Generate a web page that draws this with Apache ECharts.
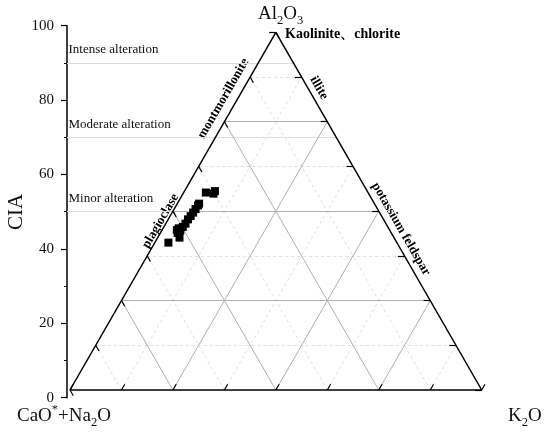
<!DOCTYPE html>
<html>
<head>
<meta charset="utf-8">
<script src="https://cdn.jsdelivr.net/npm/echarts@6/dist/echarts.min.js"></script>
<style>
  html, body { margin: 0; padding: 0; background: #fff; }
  #main { width: 550px; height: 434px; }
</style>
</head>
<body>
<div id="main"></div>
<script>
// sample compositions (A - CN - K, %)
var al2o3   = [41.2, 42.6, 44.7, 44.6, 45.6, 46.5, 47.7, 48.6, 49.6, 50.6, 51.6, 52.1, 55.2, 54.9, 55.6, 45.2, 43.9];
var caoNa2o = [55.5, 52.1, 51.7, 50.9, 49.8, 48.7, 47.5, 46.4, 45.3, 44.2, 43.1, 42.6, 39.4, 37.7, 37.0, 51.0, 51.9];
var k2o     = [ 3.3,  5.3,  3.6,  4.5,  4.6,  4.8,  4.8,  5.0,  5.1,  5.2,  5.3,  5.3,  5.4,  7.4,  7.4,  3.8,  4.2];

var ciaTicks = [0, 20, 40, 60, 80, 100];
var alterationLevels = [90, 70, 50];
var alterationNames = ['Intense alteration', 'Moderate alteration', 'Minor alteration'];
var majorGrid = [25, 50, 75];
var minorGrid = [12.5, 37.5, 62.5, 87.5];
var edgeTicks = [0, 12.5, 25, 37.5, 50, 62.5, 75, 87.5, 100];

var SERIF = '"Liberation Serif", "Times New Roman", serif';

// ternary -> cartesian (x = K + A/2, y = A)
function toXY(a, k) { return [k + a / 2, a]; }

function gridSegs(vals) {
    var out = [];
    vals.forEach(function (v) {
        out.push({coords: [toXY(v, 0), toXY(v, 100 - v)]});        // A const
        out.push({coords: [toXY(0, v), toXY(100 - v, v)]});        // K const
        out.push({coords: [toXY(0, 100 - v), toXY(100 - v, 0)]});  // CN const
    });
    return out;
}

var L = 1.6;
var tickSegs = [];
edgeTicks.forEach(function (t) {
    tickSegs.push({coords: [toXY(0, t), toXY(L, t)]});                 // bottom
    tickSegs.push({coords: [toXY(t, 100 - t), toXY(t, 100 - t - L)]}); // right
    tickSegs.push({coords: [toXY(t, 0), toXY(t - L, L)]});             // left
});

var outline = [toXY(0, 0), toXY(0, 100), toXY(100, 0), toXY(0, 0)];

var pts = al2o3.map(function (a, i) { return toXY(a, k2o[i]); });

var chart = echarts.init(document.getElementById('main'));

var richM = {fontFamily: SERIF, fontSize: 19, lineHeight: 26, fill: '#111'};
var richS = {fontFamily: SERIF, fontSize: 12.5, lineHeight: 12, verticalAlign: 'bottom', fill: '#111'};
var richP = {fontFamily: SERIF, fontSize: 12.5, lineHeight: 12, verticalAlign: 'top', fill: '#111'};

chart.setOption({
    animation: false,
    backgroundColor: '#fff',
    grid: [
        {left: 67, top: 25.7, width: 414.7, height: 372},
        {left: 70, top: 32.3, width: 411.7, height: 357.7}
    ],
    xAxis: [
        {gridIndex: 0, type: 'value', min: 0, max: 1, show: false},
        {gridIndex: 1, type: 'value', min: 0, max: 100, show: false}
    ],
    yAxis: [
        {
            gridIndex: 0, type: 'value', min: 0, max: 100, interval: 20,
            axisLine: {show: true, lineStyle: {color: '#000', width: 1.5}},
            axisTick: {show: true, length: 6, lineStyle: {color: '#000', width: 1.2}},
            minorTick: {show: true, splitNumber: 2, length: 3, lineStyle: {color: '#000'}},
            axisLabel: {fontFamily: SERIF, fontSize: 15, color: '#111', margin: 13},
            splitLine: {show: false}
        },
        {gridIndex: 1, type: 'value', min: 0, max: 100, show: false}
    ],
    series: [
        {
            id: 'alteration',
            type: 'lines', coordinateSystem: 'cartesian2d', xAxisIndex: 1, yAxisIndex: 1,
            clip: false, silent: true,
            lineStyle: {color: '#dedede', width: 1, opacity: 1},
            data: []
        },
        {
            type: 'lines', coordinateSystem: 'cartesian2d', xAxisIndex: 1, yAxisIndex: 1,
            clip: false, silent: true,
            lineStyle: {color: '#dfdfdf', width: 1, type: [3, 3], opacity: 1},
            data: gridSegs(minorGrid)
        },
        {
            type: 'lines', coordinateSystem: 'cartesian2d', xAxisIndex: 1, yAxisIndex: 1,
            clip: false, silent: true,
            lineStyle: {color: '#b0b0b0', width: 1, opacity: 1},
            data: gridSegs(majorGrid)
        },
        {
            type: 'line', xAxisIndex: 1, yAxisIndex: 1, clip: false, silent: true,
            symbol: 'none', lineStyle: {color: '#000', width: 1.5},
            data: outline
        },
        {
            type: 'lines', coordinateSystem: 'cartesian2d', xAxisIndex: 1, yAxisIndex: 1,
            clip: false, silent: true,
            lineStyle: {color: '#000', width: 1.2, opacity: 1},
            data: tickSegs
        },
        {
            type: 'scatter', xAxisIndex: 1, yAxisIndex: 1, clip: false,
            symbol: 'rect', symbolSize: 8,
            itemStyle: {color: '#000', opacity: 1},
            data: pts
        }
    ],
    graphic: [
        {type: 'text', id: 'al', x: 258, y: 14, style: {
            text: '{m|Al}{s|2}{m|O}{s|3}', verticalAlign: 'middle',
            rich: {m: richM, s: richS}
        }},
        {type: 'text', id: 'cn', x: 17, y: 416, style: {
            text: '{m|CaO}{p|*}{m|+Na}{s|2}{m|O}', verticalAlign: 'middle',
            rich: {m: richM, p: richP, s: richS}
        }},
        {type: 'text', id: 'k', x: 508, y: 416, style: {
            text: '{m|K}{s|2}{m|O}', verticalAlign: 'middle',
            rich: {m: richM, s: richS}
        }},
        {type: 'text', id: 'cia', x: 16, y: 212, rotation: Math.PI / 2, style: {
            text: 'CIA', font: '21px ' + SERIF, fill: '#111', align: 'center', verticalAlign: 'middle'
        }},
        {type: 'text', id: 'kao', x: 285, y: 34, style: {
            text: 'Kaolinite、chlorite', font: 'bold 14px ' + SERIF, fill: '#000', verticalAlign: 'middle'
        }},
        {type: 'text', id: 'mont', x: 223.5, y: 98.5, rotation: Math.PI / 3, style: {
            text: 'montmorillonite', font: 'bold 13px ' + SERIF, fill: '#000', align: 'center', verticalAlign: 'middle'
        }},
        {type: 'text', id: 'plag', x: 160.5, y: 221, rotation: Math.PI / 3, style: {
            text: 'plagioclase', font: 'bold 13px ' + SERIF, fill: '#000', align: 'center', verticalAlign: 'middle'
        }},
        {type: 'text', id: 'ill', x: 319, y: 88, rotation: -Math.PI / 3, style: {
            text: 'illite', font: 'bold 13px ' + SERIF, fill: '#000', align: 'center', verticalAlign: 'middle'
        }},
        {type: 'text', id: 'kfs', x: 401, y: 229, rotation: -Math.PI / 3, style: {
            text: 'potassium feldspar', font: 'bold 13px ' + SERIF, fill: '#000', align: 'center', verticalAlign: 'middle'
        }}
    ]
});

// alteration lines: CIA level on the left axis, run across to the K2O-Al2O3 edge
var axisPx = chart.convertToPixel({xAxisIndex: 0}, 0);
var xStart = chart.convertFromPixel({xAxisIndex: 1}, axisPx);
var altSegs = [];
var altTexts = [];
alterationLevels.forEach(function (c, i) {
    var py = chart.convertToPixel({yAxisIndex: 0}, c);
    var a = chart.convertFromPixel({yAxisIndex: 1}, py);
    altSegs.push({coords: [[xStart, a], [100 - a / 2, a]]});
    altTexts.push({type: 'text', id: 'alt' + i, x: axisPx + 1.5, y: py - 13, style: {
        text: alterationNames[i], font: '13px ' + SERIF, fill: '#111', verticalAlign: 'middle'
    }});
});

chart.setOption({
    series: [{id: 'alteration', data: altSegs}],
    graphic: altTexts
});
</script>
</body>
</html>
